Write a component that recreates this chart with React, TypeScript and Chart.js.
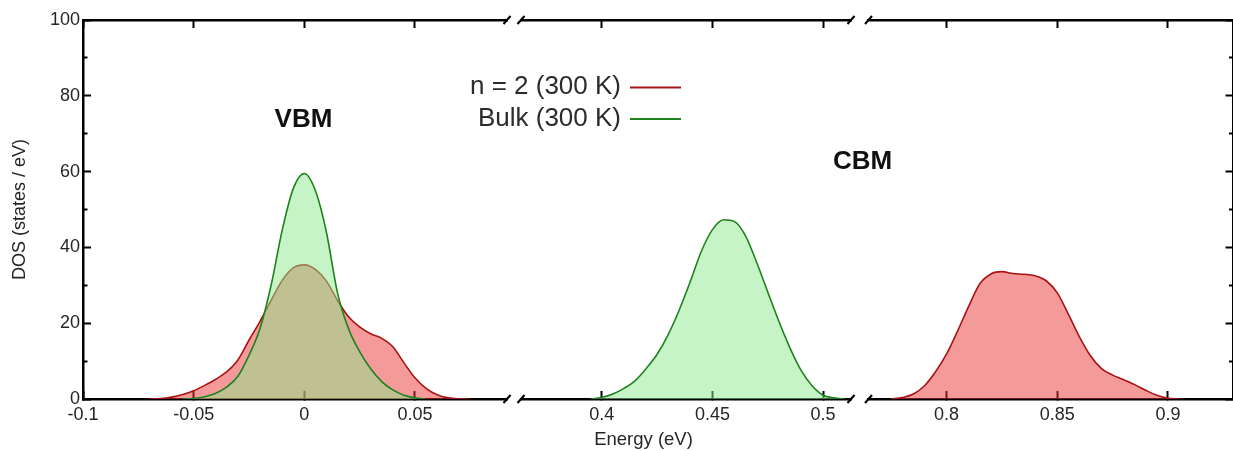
import React, { useEffect, useRef } from 'react';
import { Chart, registerables } from 'chart.js';

Chart.register(...registerables);

// ---- Density of states (states / eV) against energy (eV) ----
const n2VbmEnergy = [-0.07, -0.065, -0.06, -0.055, -0.05, -0.045, -0.04, -0.035, -0.03, -0.025, -0.02, -0.015, -0.01, -0.005, 0, 0.005, 0.01, 0.015, 0.02, 0.025, 0.03, 0.035, 0.04, 0.045, 0.05, 0.055, 0.06, 0.065, 0.07, 0.075];
const n2VbmDos = [0, 0.1, 0.5, 1.2, 2.2, 3.6, 5.2, 7.2, 10.3, 15.5, 20.5, 26.0, 31.3, 34.6, 35.4, 34.2, 31.1, 26.0, 21.7, 19.0, 17.2, 16.0, 13.8, 9.6, 5.6, 2.8, 1.1, 0.3, 0.05, 0];

const bulkVbmEnergy = [-0.055, -0.05, -0.045, -0.04, -0.035, -0.03, -0.025, -0.02, -0.015, -0.01, -0.005, 0, 0.005, 0.01, 0.015, 0.02, 0.025, 0.03, 0.035, 0.04, 0.045, 0.05, 0.055];
const bulkVbmDos = [0, 0.15, 0.6, 1.5, 3.2, 6.0, 11.5, 18.6, 30.0, 44.5, 55.5, 59.5, 55.0, 44.0, 28.0, 18.5, 12.5, 8.0, 4.6, 2.4, 1.0, 0.3, 0];

const bulkCbmEnergy = [0.395, 0.4, 0.405, 0.41, 0.415, 0.42, 0.425, 0.43, 0.435, 0.44, 0.445, 0.45, 0.455, 0.46, 0.465, 0.47, 0.475, 0.48, 0.485, 0.49, 0.495, 0.5, 0.505, 0.51];
const bulkCbmDos = [0, 0.4, 1.3, 2.8, 4.8, 8.0, 11.8, 17.0, 23.5, 31.0, 39.0, 44.7, 47.3, 46.8, 43.0, 36.0, 28.2, 20.5, 13.5, 7.6, 3.5, 1.0, 0.3, 0];

const n2CbmEnergy = [0.775, 0.78, 0.785, 0.79, 0.795, 0.8, 0.805, 0.81, 0.815, 0.82, 0.825, 0.83, 0.835, 0.84, 0.845, 0.85, 0.855, 0.86, 0.865, 0.87, 0.875, 0.88, 0.885, 0.89, 0.895, 0.9, 0.905];
const n2CbmDos = [0, 0.4, 1.3, 3.5, 7.2, 11.9, 18.0, 24.5, 30.4, 33.0, 33.6, 33.1, 32.9, 32.5, 31.2, 28.0, 22.4, 16.4, 11.4, 8.0, 6.3, 5.1, 3.8, 2.3, 1.0, 0.2, 0];

const seriesNames = ['n = 2 (300 K)', 'Bulk (300 K)'];

// ---- Tick values ----
const vbmTicks = [-0.1, -0.05, 0, 0.05];
const gapTicks = [0.4, 0.45, 0.5];
const cbmTicks = [0.8, 0.85, 0.9];
const dosMajorTicks = [0, 20, 40, 60, 80, 100];
const dosMinorTicks = [10, 30, 50, 70, 90];

// ---- Broken energy axis: three windows separated by small gaps ----
const energyWindows = [
  { id: 'xa', min: -0.1, max: 0.0916, share: 424, ticks: vbmTicks },
  { id: 'gapA', share: 14 },
  { id: 'xb', min: 0.3635, max: 0.5126, share: 330, ticks: gapTicks },
  { id: 'gapB', share: 17.5 },
  { id: 'xc', min: 0.7647, max: 0.9294, share: 364.5, ticks: cbmTicks },
];

const FONT = "'Liberation Sans', Arial, sans-serif";
const n2Line = '#a81414';
const n2Fill = 'rgba(233, 53, 53, 0.5)';
const bulkLine = '#1e821e';
const bulkFill = 'rgba(141, 233, 141, 0.5)';
const textColor = '#262626';

const points = (xs: number[], ys: number[]) => xs.map((x, i) => ({ x, y: ys[i] }));

// Fixes an axis box to a given size and stops its labels from padding the plot area.
const fixBox = (w: number | null, h: number | null) => (s: any) => {
  if (w !== null) s.width = w;
  if (h !== null) s.height = h;
  s.paddingLeft = 0;
  s.paddingRight = 0;
  s.paddingTop = 0;
  s.paddingBottom = 0;
};

function buildScales() {
  const scales: Record<string, any> = {};
  const n = energyWindows.length;
  energyWindows.forEach((w, i) => {
    const isGap = w.ticks === undefined;
    const setTicks = (s: any) => {
      s.ticks = (w.ticks || []).map((v) => ({ value: v }));
    };
    const base = {
      type: 'linear',
      axis: 'x',
      display: !isGap,
      min: isGap ? 0 : w.min,
      max: isGap ? 1 : w.max,
      stackWeight: w.share,
      border: { display: true, color: '#000', width: 2.5 },
      afterBuildTicks: setTicks,
    };
    scales[w.id] = {
      ...base,
      position: 'bottom',
      stack: 'energy',
      weight: i,
      grid: { drawOnChartArea: false, drawTicks: true, tickLength: -8, tickWidth: 2, tickColor: '#000' },
      ticks: {
        display: true,
        padding: 13,
        color: textColor,
        font: { family: FONT, size: 18 },
        autoSkip: false,
        maxRotation: 0,
        includeBounds: false,
        callback: (v: number) => String(v),
      },
      afterFit: fixBox(null, isGap ? 0 : 52),
    };
    scales[w.id + 'Top'] = {
      ...base,
      position: 'top',
      stack: 'energyTop',
      weight: n - i,
      grid: { drawOnChartArea: false, drawTicks: true, tickLength: -8, tickWidth: 2, tickColor: '#000' },
      ticks: { display: false },
      afterFit: fixBox(null, 0),
    };
  });

  const dosRange = { type: 'linear', axis: 'y', min: 0, max: 100 };
  scales.y = {
    ...dosRange,
    position: 'left',
    weight: 1,
    border: { display: true, color: '#000', width: 2.5 },
    grid: { drawOnChartArea: false, tickLength: -8, tickWidth: 2, tickColor: '#000' },
    ticks: { padding: 11, color: textColor, font: { family: FONT, size: 18 }, callback: (v: number) => String(v) },
    title: {
      display: true,
      text: 'DOS (states / eV)',
      color: textColor,
      font: { family: FONT, size: 18 },
      padding: { top: 9, bottom: 0 },
    },
    afterBuildTicks: (s: any) => {
      s.ticks = dosMajorTicks.map((v) => ({ value: v }));
    },
    afterFit: fixBox(83, null),
  };
  scales.yMinor = {
    ...dosRange,
    position: 'left',
    weight: 0,
    border: { display: false },
    grid: { drawOnChartArea: false, tickLength: -4.5, tickWidth: 2, tickColor: '#000' },
    ticks: { display: false },
    afterBuildTicks: (s: any) => {
      s.ticks = dosMinorTicks.map((v) => ({ value: v }));
    },
    afterFit: fixBox(0, null),
  };
  scales.yRight = {
    ...dosRange,
    position: 'right',
    weight: 0,
    border: { display: true, color: '#000', width: 2.5 },
    grid: { drawOnChartArea: false, tickLength: -7.5, tickWidth: 2, tickColor: '#000' },
    ticks: { display: false },
    afterBuildTicks: (s: any) => {
      s.ticks = dosMajorTicks.map((v) => ({ value: v }));
    },
    afterFit: fixBox(0, null),
  };
  scales.yRightMinor = {
    ...dosRange,
    position: 'right',
    weight: 1,
    border: { display: false },
    grid: { drawOnChartArea: false, tickLength: -4, tickWidth: 2, tickColor: '#000' },
    ticks: { display: false },
    afterBuildTicks: (s: any) => {
      s.ticks = dosMinorTicks.map((v) => ({ value: v }));
    },
    afterFit: fixBox(0, null),
  };
  return scales;
}

// Break marks, legend, band-edge labels and the energy-axis title.
const decorations = {
  id: 'decorations',
  afterDraw(chart: any) {
    const { ctx, chartArea, scales } = chart;
    ctx.save();

    ctx.strokeStyle = '#000';
    ctx.lineWidth = 2;
    const edges = [scales.xa.right, scales.xb.left, scales.xb.right, scales.xc.left];
    for (const xe of edges) {
      for (const ye of [chartArea.top, chartArea.bottom]) {
        ctx.beginPath();
        ctx.moveTo(xe - 3.5, ye + 4);
        ctx.lineTo(xe + 3.5, ye - 4);
        ctx.stroke();
      }
    }

    const rows = [
      { label: chart.data.datasets[0].label, color: n2Line, baseline: 94 },
      { label: chart.data.datasets[1].label, color: bulkLine, baseline: 125.5 },
    ];
    ctx.font = `26px ${FONT}`;
    ctx.textAlign = 'right';
    ctx.textBaseline = 'alphabetic';
    for (const r of rows) {
      ctx.fillStyle = '#2b2b2b';
      ctx.fillText(r.label, 621, r.baseline);
      ctx.strokeStyle = r.color;
      ctx.lineWidth = 2;
      ctx.beginPath();
      ctx.moveTo(630, r.baseline - 6.5);
      ctx.lineTo(681, r.baseline - 6.5);
      ctx.stroke();
    }

    ctx.fillStyle = '#111';
    ctx.font = `bold 26px ${FONT}`;
    ctx.textAlign = 'center';
    ctx.fillText('VBM', 303.5, 127);
    ctx.fillText('CBM', 862.5, 169);

    ctx.fillStyle = textColor;
    ctx.font = `18.5px ${FONT}`;
    ctx.fillText('Energy (eV)', 643.5, 445);

    ctx.restore();
  },
};

export default function App() {
  const canvasRef = useRef<HTMLCanvasElement>(null);

  useEffect(() => {
    const common = {
      pointRadius: 0,
      borderWidth: 1.6,
      cubicInterpolationMode: 'monotone',
      fill: 'origin',
      yAxisID: 'y',
    };
    const chart = new Chart(canvasRef.current as HTMLCanvasElement, {
      type: 'line',
      data: {
        datasets: [
          { ...common, label: seriesNames[0], data: points(n2VbmEnergy, n2VbmDos), xAxisID: 'xa', borderColor: n2Line, backgroundColor: n2Fill, order: 1 },
          { ...common, label: seriesNames[1], data: points(bulkVbmEnergy, bulkVbmDos), xAxisID: 'xa', borderColor: bulkLine, backgroundColor: bulkFill, order: 0 },
          { ...common, label: seriesNames[1], data: points(bulkCbmEnergy, bulkCbmDos), xAxisID: 'xb', borderColor: bulkLine, backgroundColor: bulkFill, order: 0 },
          { ...common, label: seriesNames[0], data: points(n2CbmEnergy, n2CbmDos), xAxisID: 'xc', borderColor: n2Line, backgroundColor: n2Fill, order: 1 },
        ] as any,
      },
      options: {
        responsive: false,
        animation: false,
        events: [],
        layout: { padding: { left: 0, right: 0, top: 20, bottom: 0 }, autoPadding: false },
        plugins: {
          legend: { display: false },
          tooltip: { enabled: false },
        },
        scales: buildScales(),
      } as any,
      plugins: [decorations],
    });
    return () => chart.destroy();
  }, []);

  return (
    <div style={{ position: 'absolute', left: 0, top: 0, width: 1233, height: 451, background: '#fff' }}>
      <canvas ref={canvasRef} width={1233} height={451} style={{ display: 'block' }} />
    </div>
  );
}
